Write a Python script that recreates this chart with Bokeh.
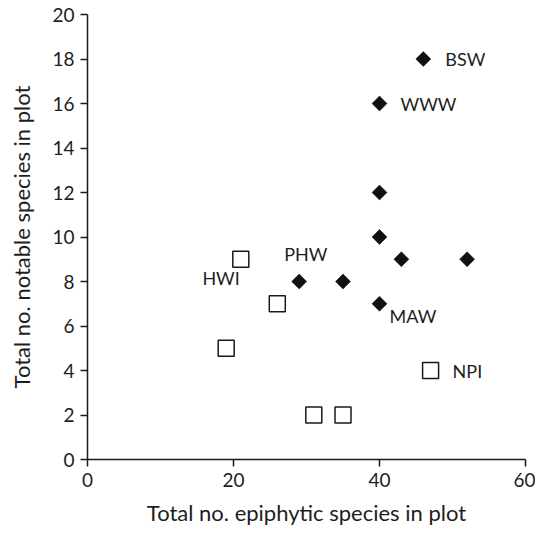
import math
from bokeh.plotting import figure
from bokeh.models import ColumnDataSource, Range1d, FixedTicker
from bokeh.embed import file_html
from bokeh.resources import INLINE
from bokeh.core.properties import value

# Filled diamonds
dia_x = [46, 40, 40, 40, 43, 52, 29, 35, 40]
dia_y = [18, 16, 12, 10, 9, 9, 8, 8, 7]
# Open squares
sq_x = [21, 26, 19, 47, 31, 35]
sq_y = [9, 7, 5, 4, 2, 2]
# Point labels
lab_text = ["BSW", "WWW", "PHW", "HWI", "MAW", "NPI"]
lab_x = [46, 40, 29, 21, 40, 47]
lab_y = [18, 16, 8, 9, 7, 4]
lab_dx = [22, 21, -15, -1, 10, 22]
lab_dy = [0, 0, -28, 19, 12, 0]
lab_align = ["left", "left", "left", "right", "left", "left"]

x_ticks = [0, 20, 40, 60]
y_ticks = [0, 2, 4, 6, 8, 10, 12, 14, 16, 18, 20]

FONT = "Lato"
TXT = "#1e1e1e"

p = figure(width=535, height=528, output_backend="svg", toolbar_location=None,
           x_range=Range1d(0, 60), y_range=Range1d(0, 20),
           min_border_left=87, min_border_right=10, min_border_top=14, min_border_bottom=65)
p.outline_line_color = None
p.xgrid.visible = False
p.ygrid.visible = False
p.background_fill_color = "white"
p.border_fill_color = "white"

for ax in (p.xaxis[0], p.yaxis[0]):
    ax.axis_line_color = "#1a1a1a"
    ax.axis_line_width = 1.5
    ax.major_tick_line_color = "#1a1a1a"
    ax.major_tick_line_width = 1.5
    ax.major_tick_out = 7
    ax.major_tick_in = 0
    ax.minor_tick_line_color = None
    ax.major_label_text_font = FONT
    ax.major_label_text_font_size = "19px"
    ax.major_label_text_color = TXT
    ax.axis_label_text_font = FONT
    ax.axis_label_text_font_size = "22px"
    ax.axis_label_text_font_style = "normal"
    ax.axis_label_text_color = TXT
    ax.major_label_standoff = 6

p.xaxis[0].ticker = FixedTicker(ticks=x_ticks)
p.yaxis[0].ticker = FixedTicker(ticks=y_ticks)
p.xaxis[0].axis_label = "Total no. epiphytic species in plot"
p.yaxis[0].axis_label = "Total no. notable species in plot"
p.xaxis[0].axis_label_standoff = 9
p.yaxis[0].axis_label_standoff = 14

p.scatter(x=sq_x, y=sq_y, marker="square", size=16, fill_color="white",
          line_color="#1a1a1a", line_width=1.5)
p.scatter(x=dia_x, y=dia_y, marker="square", size=10.6, angle=math.pi / 4,
          fill_color="#111111", line_color="#111111", line_width=0.5)

src = ColumnDataSource(dict(x=lab_x, y=lab_y, t=lab_text, dx=lab_dx, dy=lab_dy, al=lab_align))
p.text(x="x", y="y", text="t", x_offset="dx", y_offset="dy", text_align="al",
       source=src, text_baseline="middle", text_font=value(FONT),
       text_font_size="18px", text_color=TXT)

open("out.html", "w").write(file_html(p, INLINE))
